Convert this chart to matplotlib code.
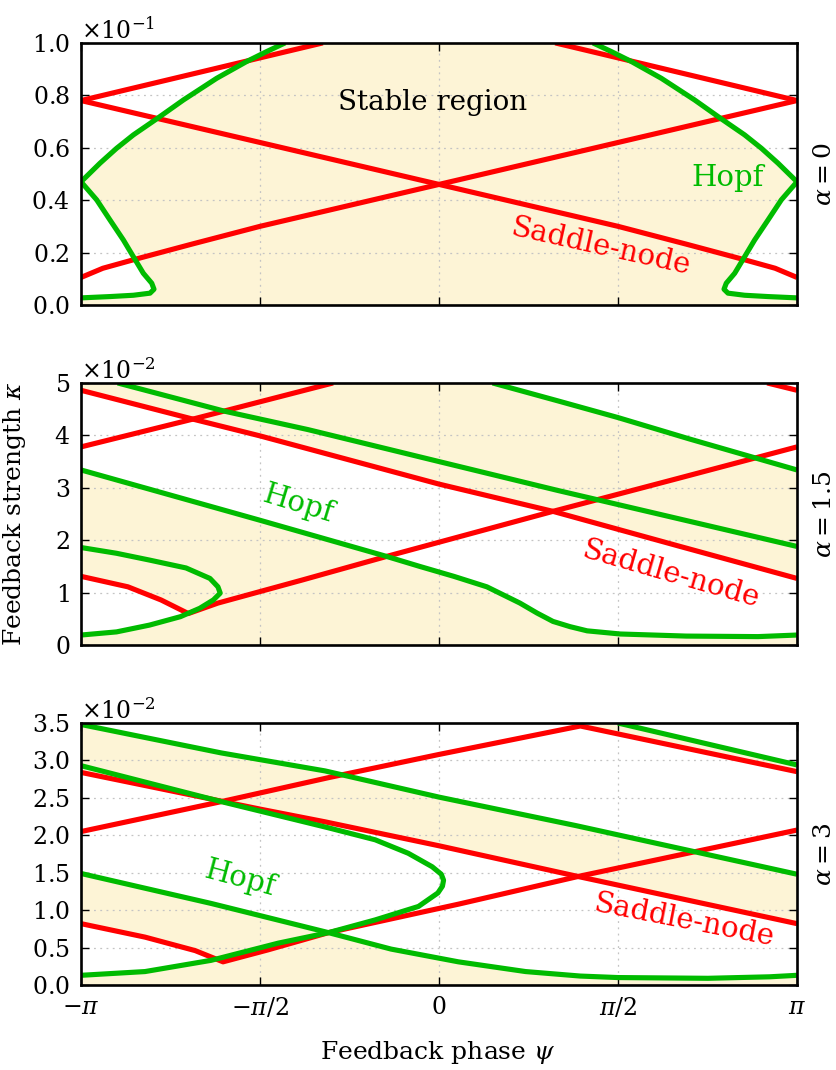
import numpy as np
import matplotlib
matplotlib.use("Agg")
import matplotlib.pyplot as plt
from matplotlib.ticker import ScalarFormatter, MultipleLocator

plt.rcParams["font.family"] = "serif"
plt.rcParams["font.serif"] = ["DejaVu Serif"]
plt.rcParams["mathtext.fontset"] = "dejavuserif"

pi = np.pi
red, green, cream = "#ff0000", "#00bb00", "#fdf4d6"

# ---------------- alpha = 0  (kappa in units of 1e-1)
sn0_tl_psi = [-pi, -1.02]
sn0_tl_k = [0.78, 1.0]
sn0_tr_psi = [1.02, pi]
sn0_tr_k = [1.0, 0.78]
sn0_down_psi = [-pi, -pi / 2, 0.0, pi / 2, 2.17, 2.66, 2.95, pi]
sn0_down_k = [0.78, 0.62, 0.46, 0.30, 0.232, 0.175, 0.14, 0.105]
sn0_up_psi = [-pi, -2.95, -2.66, -2.17, -pi / 2, 0.0, pi / 2, pi]
sn0_up_k = [0.105, 0.14, 0.175, 0.232, 0.30, 0.46, 0.62, 0.78]
hopf0_l_psi = [-1.351, -1.512, -1.688, -1.951, -2.244, -2.478, -2.682, -2.829, -2.975, -pi,
               -3.004, -2.887, -2.770, -2.682, -2.595, -2.521, -2.501, -2.536, -2.682, -2.887, -pi]
hopf0_l_k = [1.0, 0.967, 0.929, 0.865, 0.782, 0.710, 0.649, 0.598, 0.541, 0.47,
             0.401, 0.324, 0.248, 0.184, 0.121, 0.083, 0.060, 0.045, 0.037, 0.032, 0.027]
hopf0_r_psi = [1.351, 1.512, 1.688, 1.951, 2.244, 2.478, 2.682, 2.829, 2.975, pi,
               3.004, 2.887, 2.770, 2.682, 2.595, 2.521, 2.501, 2.536, 2.682, 2.887, pi]
hopf0_r_k = [1.0, 0.967, 0.929, 0.865, 0.782, 0.710, 0.649, 0.598, 0.541, 0.47,
             0.401, 0.324, 0.248, 0.184, 0.121, 0.083, 0.060, 0.045, 0.037, 0.032, 0.027]

# ---------------- alpha = 1.5  (kappa in units of 1e-2)
sn15_a_psi = [-pi, -2.16, -pi / 2, 0.0, 1.0, 2.1, pi]
sn15_a_k = [4.86, 4.31, 3.99, 3.07, 2.55, 1.89, 1.27]
sn15_b_psi = [-pi, -2.16, -0.93]
sn15_b_k = [3.78, 4.31, 5.0]
sn15_c_psi = [2.88, pi]
sn15_c_k = [5.0, 4.86]
sn15_d_psi = [-pi, -2.73, -2.44, -2.2, -1.94, -1.2, -0.46, 1.0, 2.1, pi]
sn15_d_k = [1.31, 1.11, 0.86, 0.60, 0.80, 1.24, 1.69, 2.55, 3.18, 3.78]
hopf15_a_psi = [-2.82, -1.88, -1.15, 0.0, 1.04, pi]
hopf15_a_k = [5.0, 4.46, 4.11, 3.50, 2.95, 1.88]
hopf15_b_psi = [0.47, 1.04, 1.57, 2.2, pi]
hopf15_b_k = [5.0, 4.66, 4.34, 3.93, 3.34]
hopf15_c_psi = [-pi, -pi / 2, -0.46, -0.17, 0.13, 0.42, 0.71, 0.86, 1.0, 1.15, 1.3, 1.59, 2.17, 2.8, pi]
hopf15_c_k = [3.34, 2.38, 1.69, 1.50, 1.31, 1.11, 0.80, 0.61, 0.45, 0.35, 0.27, 0.21, 0.17, 0.16, 0.19]
hopf15_lo_psi = [-pi, -2.83, -2.54, -2.27, -2.10, -1.98, -1.92]
hopf15_lo_k = [0.19, 0.25, 0.38, 0.54, 0.70, 0.86, 0.99]
hopf15_up_psi = [-1.92, -1.94, -2.01, -2.22, -2.54, -2.83, -pi]
hopf15_up_k = [0.99, 1.11, 1.27, 1.47, 1.62, 1.75, 1.86]

# ---------------- alpha = 3  (kappa in units of 1e-2)
sn3_a_psi = [-pi, -pi / 2, -1.0, 0.0, 1.22, pi]
sn3_a_k = [2.84, 2.35, 2.18, 1.86, 1.45, 0.82]
sn3_b_psi = [-pi, -1.91, -0.97, 0.0, 1.24, pi]
sn3_b_k = [2.05, 2.45, 2.77, 3.08, 3.46, 2.85]
sn3_c_psi = [-pi, -2.58, -2.14, -1.895, -1.5, -0.97, 0.17, 1.22, pi]
sn3_c_k = [0.82, 0.64, 0.46, 0.31, 0.47, 0.70, 1.08, 1.45, 2.07]
hopf3_a_psi = [-pi, -1.91, -1.0, 0.0, 1.2, pi]
hopf3_a_k = [3.48, 3.10, 2.86, 2.51, 2.13, 1.48]
hopf3_b_psi = [1.57, pi]
hopf3_b_k = [3.5, 2.94]
hopf3_lo_psi = [-pi, -2.58, -2.0, -1.41, -0.97, -0.56, -0.18, -0.01, 0.03, 0.04]
hopf3_lo_k = [0.13, 0.18, 0.33, 0.56, 0.70, 0.87, 1.05, 1.23, 1.32, 1.40]
hopf3_up_psi = [0.04, 0.02, -0.06, -0.27, -0.56, -0.97, -1.91, -pi]
hopf3_up_k = [1.40, 1.48, 1.58, 1.76, 1.94, 2.10, 2.45, 2.93]
hopf3_c_psi = [-pi, -2.0, -0.97, -0.42, 0.17, 0.76, 1.24, 1.57, 2.36, 2.9, pi]
hopf3_c_k = [1.49, 1.09, 0.70, 0.48, 0.31, 0.18, 0.12, 0.10, 0.09, 0.11, 0.13]
cross3 = -0.97

fig = plt.figure(figsize=(8.37, 10.7), dpi=100)
ax1 = fig.add_axes([0.0968, 0.7150, 0.8554, 0.2449])
ax2 = fig.add_axes([0.0968, 0.3972, 0.8554, 0.2449])
ax3 = fig.add_axes([0.0968, 0.0794, 0.8554, 0.2449])


def setup(ax, scale, top, step, power, label):
    ax.set_xlim(-pi, pi)
    ax.set_ylim(0, top * scale)
    ax.set_xticks([-pi, -pi / 2, 0, pi / 2, pi])
    ax.yaxis.set_major_locator(MultipleLocator(step * scale))
    fmt = ScalarFormatter(useMathText=True)
    fmt.set_powerlimits((power, power))
    ax.yaxis.set_major_formatter(fmt)
    ax.yaxis.get_offset_text().set_fontsize(17)
    ax.tick_params(direction="in", top=True, right=True, length=6, width=1,
                   labelsize=17, pad=8, labelbottom=False)
    ax.grid(True, color="#c4c4c4", linestyle=(0, (1.5, 3.5)), linewidth=0.9)
    ax.set_axisbelow("line")
    for sp in ax.spines.values():
        sp.set_linewidth(1.9)
    ax.text(1.038, 0.5, label, transform=ax.transAxes, rotation=90,
            ha="center", va="center", fontsize=18)


def line(ax, x, y, scale, c):
    ax.plot(x, np.asarray(y) * scale, color=c, lw=3.7, zorder=2.2 if c == green else 2,
            solid_capstyle="butt")


def poly(ax, x, y, scale, c):
    ax.fill(x, np.asarray(y) * scale, color=c, lw=0, zorder=1)


# ---- panel 1
s = 1e-1
setup(ax1, s, 1.0, 0.2, -1, r"$\alpha = 0$")
ax1.set_facecolor(cream)
poly(ax1, hopf0_l_psi + [-pi], hopf0_l_k + [1.0], s, "white")
poly(ax1, hopf0_r_psi + [pi], hopf0_r_k + [1.0], s, "white")
for x, y in [(sn0_tl_psi, sn0_tl_k), (sn0_tr_psi, sn0_tr_k),
             (sn0_down_psi, sn0_down_k), (sn0_up_psi, sn0_up_k)]:
    line(ax1, x, y, s, red)
line(ax1, hopf0_l_psi, hopf0_l_k, s, green)
line(ax1, hopf0_r_psi, hopf0_r_k, s, green)
ax1.text(-0.053, 0.771 * s, "Stable region", fontsize=20, ha="center", va="center", zorder=3)
ax1.text(2.536, 0.485 * s, "Hopf", color=green, fontsize=21, ha="center", va="center", zorder=3)
ax1.text(1.421, 0.221 * s, "Saddle-node", color=red, fontsize=21, ha="center", va="center",
         rotation=-12.5, rotation_mode="anchor", zorder=3)

# ---- panel 2
s = 1e-2
setup(ax2, s, 5.0, 1.0, -2, r"$\alpha = 1.5$")
ax2.set_facecolor(cream)
poly(ax2, sn15_a_psi + hopf15_c_psi[::-1], sn15_a_k + hopf15_c_k[::-1], s, "white")
poly(ax2, hopf15_b_psi + [pi], hopf15_b_k + [5.0], s, "white")
cusp = sn15_d_psi[int(np.argmin(sn15_d_k))]
d_psi, d_k = np.array(sn15_d_psi), np.array(sn15_d_k)
lo_psi, lo_k = np.array(hopf15_lo_psi), np.array(hopf15_lo_k)
m1, m2 = d_psi <= cusp, lo_psi <= cusp
poly(ax2, np.r_[d_psi[m1], lo_psi[m2][::-1]], np.r_[d_k[m1], lo_k[m2][::-1]], s, "white")
for x, y in [(sn15_a_psi, sn15_a_k), (sn15_b_psi, sn15_b_k),
             (sn15_c_psi, sn15_c_k), (sn15_d_psi, sn15_d_k)]:
    line(ax2, x, y, s, red)
for x, y in [(hopf15_a_psi, hopf15_a_k), (hopf15_b_psi, hopf15_b_k), (hopf15_c_psi, hopf15_c_k),
             (hopf15_lo_psi + hopf15_up_psi, hopf15_lo_k + hopf15_up_k)]:
    line(ax2, x, y, s, green)
ax2.text(-1.237, 2.69 * s, "Hopf", color=green, fontsize=21, ha="center", va="center",
         rotation=-17, rotation_mode="anchor", zorder=3)
ax2.text(2.036, 1.34 * s, "Saddle-node", color=red, fontsize=21, ha="center", va="center",
         rotation=-16, rotation_mode="anchor", zorder=3)
ax2.set_ylabel(r"Feedback strength $\kappa$", fontsize=18)
ax2.yaxis.set_label_coords(-0.074, 0.5)

# ---- panel 3
setup(ax3, s, 3.5, 0.5, -2, r"$\alpha = 3$")
ax3.set_facecolor("white")
poly(ax3, sn3_a_psi + hopf3_a_psi[::-1], sn3_a_k + hopf3_a_k[::-1], s, cream)
b_psi, b_k = np.array(sn3_b_psi), np.array(sn3_b_k)
mb = b_psi >= b_psi[int(np.argmax(b_k))]
poly(ax3, np.r_[b_psi[mb], hopf3_b_psi[::-1]], np.r_[b_k[mb], hopf3_b_k[::-1]], s, cream)
c_psi, c_k = np.array(sn3_c_psi), np.array(sn3_c_k)
h_psi, h_k = np.array(hopf3_c_psi), np.array(hopf3_c_k)
l_psi, l_k = np.array(hopf3_lo_psi), np.array(hopf3_lo_k)
mc, mh = c_psi <= cross3, h_psi <= cross3
poly(ax3, np.r_[c_psi[mc], h_psi[mh][::-1]], np.r_[c_k[mc], h_k[mh][::-1]], s, cream)
ml, mr = l_psi <= cross3, h_psi >= cross3
poly(ax3, np.r_[-pi, l_psi[ml], h_psi[mr], pi], np.r_[0, l_k[ml], h_k[mr], 0], s, cream)
for x, y in [(sn3_a_psi, sn3_a_k), (sn3_b_psi, sn3_b_k), (sn3_c_psi, sn3_c_k)]:
    line(ax3, x, y, s, red)
for x, y in [(hopf3_a_psi, hopf3_a_k), (hopf3_b_psi, hopf3_b_k), (hopf3_c_psi, hopf3_c_k),
             (hopf3_lo_psi + hopf3_up_psi, hopf3_lo_k + hopf3_up_k)]:
    line(ax3, x, y, s, green)
ax3.text(-1.746, 1.42 * s, "Hopf", color=green, fontsize=21, ha="center", va="center",
         rotation=-15, rotation_mode="anchor", zorder=3)
ax3.text(2.15, 0.856 * s, "Saddle-node", color=red, fontsize=21, ha="center", va="center",
         rotation=-11, rotation_mode="anchor", zorder=3)
ax3.tick_params(labelbottom=True)
ax3.set_xticklabels([r"$-\pi$", r"$-\pi/2$", r"$0$", r"$\pi/2$", r"$\pi$"])
fig.text(438 / 837, 1 - 1052 / 1070, r"Feedback phase $\psi$", ha="center", va="center", fontsize=18)

fig.savefig("out.png", dpi=100)
